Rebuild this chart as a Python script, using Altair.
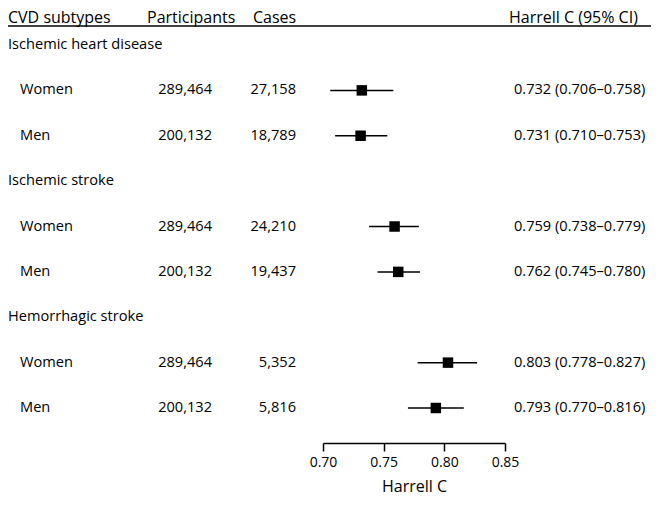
import altair as alt
import pandas as pd

# ---- data ----
subtypes = ["Ischemic heart disease", "Ischemic stroke", "Hemorrhagic stroke"]
sexes = ["Women", "Men"]
participants = [289464, 200132, 289464, 200132, 289464, 200132]
cases = [27158, 18789, 24210, 19437, 5352, 5816]
c_est = [0.732, 0.731, 0.759, 0.762, 0.803, 0.793]
c_lo = [0.706, 0.710, 0.738, 0.745, 0.778, 0.770]
c_hi = [0.758, 0.753, 0.779, 0.780, 0.827, 0.816]
headers = ["CVD subtypes", "Participants", "Cases", "Harrell C (95% CI)"]
x_ticks = [0.70, 0.75, 0.80, 0.85]

# ---- tables ----
row_ids = []
group_rows = []
data_rows = []
k = 0
for s in subtypes:
    row_ids.append(s)
    group_rows.append({"row": s, "label": s})
    for sex in sexes:
        rid = f"{s} | {sex}"
        row_ids.append(rid)
        data_rows.append({
            "row": rid, "label": sex,
            "participants": participants[k], "cases": cases[k],
            "est": c_est[k], "lo": c_lo[k], "hi": c_hi[k],
            "ci": f"{c_est[k]:.3f} ({c_lo[k]:.3f}\u2013{c_hi[k]:.3f})",
        })
        k += 1

gdf = pd.DataFrame(group_rows)
ddf = pd.DataFrame(data_rows)
hdf = pd.DataFrame({"h": headers})

W, H = 643, 435
FONT = "Open Sans"
FS = 14.6
HFS = 16

yenc = alt.Y("row:N", scale=alt.Scale(type="point", domain=row_ids, range=[37, 400], padding=0), axis=None)
xscale = alt.Scale(domain=[0.70, 0.85], range=[315, 497], nice=False, zero=False)

base_d = alt.Chart(ddf)

def txt(df, field, xpos, align, fmt=None):
    enc = {"x": alt.value(xpos), "y": yenc}
    enc["text"] = alt.Text(field, format=fmt) if fmt else alt.Text(field)
    return alt.Chart(df).mark_text(align=align, baseline="middle", font=FONT, fontSize=FS, color="black").encode(**enc)

group_txt = txt(gdf, "label:N", 0, "left")
sex_txt = txt(ddf, "label:N", 12, "left")
part_txt = txt(ddf, "participants:Q", 204, "right", ",")
case_txt = txt(ddf, "cases:Q", 288, "right", ",")
ci_txt = txt(ddf, "ci:N", 506, "left")

hx = [0, 139, 245, 501]
header_layers = []
for i, h in enumerate(headers):
    header_layers.append(
        alt.Chart(hdf[hdf["h"] == h]).mark_text(align="left", baseline="top", font=FONT, fontSize=HFS, color="black")
        .encode(x=alt.value(hx[i]), y=alt.value(2), text="h:N")
    )

header_rule = alt.Chart(hdf.head(1)).mark_rule(color="black", strokeWidth=1.5).encode(
    x=alt.value(0), x2=alt.value(W), y=alt.value(18)
)

ci_lines = base_d.mark_rule(color="black", strokeWidth=1.5).encode(
    x=alt.X("lo:Q", scale=xscale,
            axis=alt.Axis(values=x_ticks, format=".2f", title="Harrell C", grid=False,
                          labelFlush=False,
                          domainColor="black", tickColor="black", labelColor="black", titleColor="black",
                          domainWidth=1.5, tickWidth=1.5, tickSize=8, labelPadding=4,
                          labelFont=FONT, labelFontSize=14, titleFont=FONT, titleFontSize=16,
                          titleFontWeight="normal", titlePadding=9)),
    x2="hi:Q",
    y=yenc,
)
points = base_d.mark_square(color="black", opacity=1, size=110).encode(
    x=alt.X("est:Q", scale=xscale), y=yenc
)

chart = alt.layer(
    header_rule, *header_layers, group_txt, sex_txt, part_txt, case_txt, ci_txt, ci_lines, points
).properties(
    width=W, height=H,
    autosize=alt.AutoSizeParams(type="none"),
    padding={"left": 0, "top": 0, "right": 0, "bottom": 54},
).configure(background="white").configure_view(stroke=None)

chart.save("out.html", embed_options={"renderer": "svg", "actions": False})
